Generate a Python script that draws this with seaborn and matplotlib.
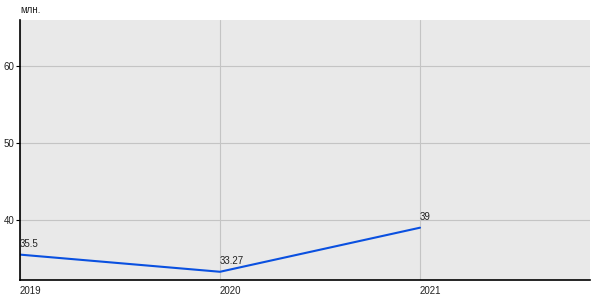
import matplotlib
matplotlib.use("Agg")
import matplotlib.pyplot as plt
import seaborn as sns
import pandas as pd

years = [2019, 2020, 2021]
values = [35.5, 33.27, 39]
value_labels = ["35.5", "33.27", "39"]
y_ticks = [40, 50, 60]
unit_label = "млн."

sns.set_theme(style="darkgrid")
plt.rcParams['font.family'] = ['Liberation Sans', 'DejaVu Sans']

df = pd.DataFrame({"year": years, "value": values})

fig = plt.figure(figsize=(6, 3), dpi=100)
ax = fig.add_axes([20/600, 20/300, 570/600, 260/300])
ax.set_facecolor("#e9e9e9")

sns.lineplot(data=df, x="year", y="value", ax=ax, color="#0a50e0", linewidth=1.5)

ax.set_xlim(2019, 2021.85)
ax.set_ylim(32.2, 66)
ax.set_xticks(years)
ax.set_xticklabels([str(y) for y in years], ha="left", fontsize=7, color="#222222")
ax.set_yticks(y_ticks)
ax.set_yticklabels([str(t) for t in y_ticks], fontsize=7, color="#222222")
ax.grid(True, color="#c4c4c4", linewidth=0.8)
ax.set_xlabel("")
ax.set_ylabel("")

for s in ["top", "right"]:
    ax.spines[s].set_visible(False)
for s in ["left", "bottom"]:
    ax.spines[s].set_visible(True)
    ax.spines[s].set_color("black")
    ax.spines[s].set_linewidth(1.2)

ax.tick_params(axis="y", length=3, width=0.8, color="black", pad=1, left=True)
ax.tick_params(axis="x", length=0, pad=4)

for x, y, lab in zip(years, values, value_labels):
    ax.annotate(lab, (x, y), xytext=(0, 4), textcoords="offset points",
                ha="left", va="bottom", fontsize=7, color="#222222")

fig.text(20/600, 1 - 10/300, unit_label, ha="left", va="center", fontsize=7, color="#222222")

fig.savefig("out.png", dpi=100)
